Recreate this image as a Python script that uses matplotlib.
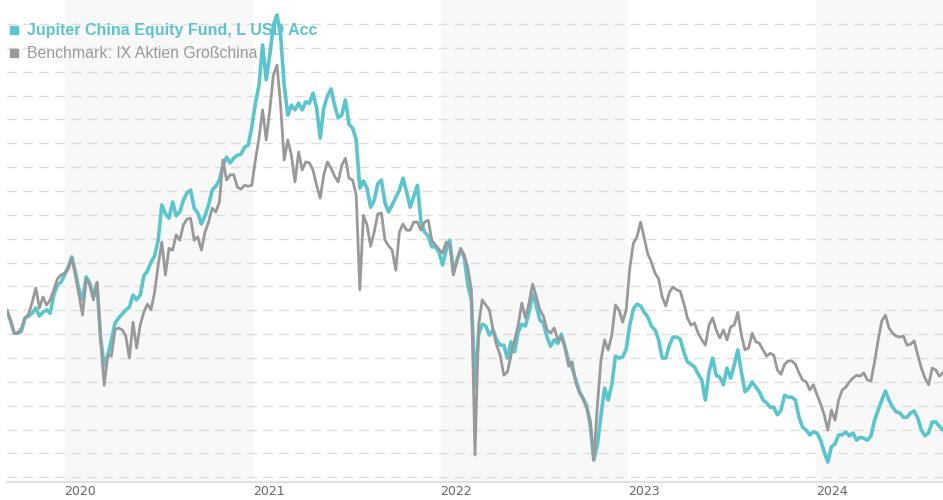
import matplotlib
matplotlib.use("Agg")
import matplotlib.pyplot as plt
import matplotlib.dates as mdates
import pandas as pd

# ---- data (weekly index values, start = 100) ----
start_date = "2019-09-11"
fund_name = "Jupiter China Equity Fund, L USD Acc"
bench_name = "Benchmark: IX Aktien Großchina"
years = [2020, 2021, 2022, 2023, 2024]

fund = [
    99.9, 97.8, 95.2, 95.2, 95.6, 98.4, 98.8, 99.4, 100.5, 98.8,
    99.6, 100.1, 99.4, 103.2, 105.3, 105.9, 107.4, 109.1, 111.2, 108.0,
    104.3, 102.2, 107.0, 105.7, 102.8, 105.7, 94.2, 88.5, 90.6, 93.8,
    97.3, 98.4, 99.2, 100.1, 100.7, 103.2, 102.2, 103.2, 107.2, 108.2,
    110.1, 111.4, 114.7, 122.1, 120.2, 119.3, 122.7, 119.8, 120.6, 123.1,
    124.6, 125.2, 121.4, 120.4, 118.1, 119.8, 122.1, 125.2, 126.0, 127.3,
    130.4, 132.1, 130.9, 131.9, 132.5, 132.7, 134.2, 134.6, 138.4, 143.4,
    147.2, 155.6, 148.3, 153.5, 159.8, 161.9, 157.7, 147.2, 140.9, 143.0,
    142.0, 143.4, 142.0, 143.7, 143.4, 145.5, 142.4, 136.1, 142.4, 144.9,
    146.4, 143.0, 140.3, 140.9, 144.1, 139.0, 138.2, 135.7, 125.6, 127.1,
    125.6, 121.6, 123.1, 126.5, 127.3, 122.5, 120.6, 122.1, 123.7, 125.2,
    127.7, 124.8, 121.6, 123.9, 126.2, 118.5, 116.4, 115.6, 113.3, 113.3,
    112.2, 109.5, 112.6, 114.7, 108.0, 110.5, 112.6, 111.2, 105.3, 102.2,
    84.0, 95.0, 97.1, 96.7, 94.8, 95.9, 93.8, 92.7, 92.7, 90.0,
    93.4, 91.3, 95.4, 97.1, 96.7, 99.6, 103.4, 101.1, 98.0, 97.3,
    94.4, 92.5, 93.8, 93.1, 95.0, 92.3, 89.4, 87.9, 85.4, 83.1,
    81.6, 80.1, 76.0, 68.6, 71.8, 78.1, 83.7, 81.2, 84.4, 90.4,
    90.0, 90.2, 91.9, 96.9, 100.3, 101.3, 100.9, 99.6, 98.6, 96.7,
    95.9, 93.8, 90.0, 90.0, 92.7, 94.4, 94.4, 94.0, 91.3, 89.2,
    88.7, 88.1, 86.6, 85.4, 81.2, 87.1, 90.0, 86.4, 86.0, 84.4,
    87.9, 85.8, 88.5, 91.7, 87.1, 82.9, 83.7, 85.0, 83.9, 82.9,
    81.2, 80.6, 79.7, 79.7, 78.1, 79.1, 82.2, 81.8, 81.8, 81.2,
    77.6, 75.5, 74.9, 73.9, 74.5, 74.3, 72.8, 70.3, 68.2, 71.4,
    72.0, 73.9, 73.9, 74.5, 73.7, 74.3, 72.8, 73.4, 73.2, 72.8,
    73.7, 77.0, 79.1, 81.2, 83.1, 81.2, 79.7, 78.7, 78.5, 77.6,
    77.6, 78.5, 78.9, 77.4, 74.9, 73.7, 74.3, 76.6, 76.6, 75.7,
    74.9,
]

benchmark = [
    99.9, 97.8, 95.2, 95.2, 96.3, 98.4, 99.2, 101.7, 104.7, 100.5,
    102.8, 101.1, 102.2, 104.3, 106.6, 107.4, 107.8, 108.6, 110.9, 107.4,
    103.2, 99.0, 106.6, 105.3, 102.2, 105.9, 93.8, 84.3, 90.6, 90.4,
    95.9, 96.3, 95.9, 94.6, 90.0, 97.5, 92.1, 96.9, 99.6, 101.3,
    100.1, 103.8, 109.5, 114.3, 107.4, 113.0, 112.6, 115.8, 114.7, 117.9,
    119.1, 119.3, 114.7, 115.4, 112.6, 116.4, 118.5, 121.4, 120.6, 122.7,
    131.5, 127.3, 128.4, 128.4, 125.8, 125.4, 126.2, 126.0, 126.2, 131.5,
    136.1, 142.0, 135.7, 142.0, 149.3, 151.4, 143.0, 131.5, 135.7, 132.5,
    126.9, 133.2, 129.4, 131.1, 130.9, 129.4, 126.2, 123.5, 128.4, 131.1,
    129.8, 128.1, 126.9, 130.4, 131.9, 127.7, 127.3, 124.2, 104.3, 119.9,
    117.9, 113.4, 116.4, 120.2, 120.4, 114.7, 113.5, 112.6, 108.4, 116.4,
    118.1, 116.8, 116.8, 118.5, 118.5, 116.8, 118.5, 118.9, 114.7, 113.7,
    112.8, 112.0, 114.3, 113.7, 107.4, 110.5, 113.0, 111.6, 108.9, 104.3,
    69.7, 96.9, 102.2, 101.1, 100.1, 95.9, 92.7, 90.6, 86.4, 87.1,
    90.6, 93.8, 96.9, 101.5, 98.4, 101.5, 105.5, 103.0, 100.1, 98.8,
    95.9, 95.2, 96.3, 93.8, 94.4, 92.1, 88.3, 89.2, 84.8, 82.7,
    81.4, 79.5, 77.0, 68.6, 80.1, 89.6, 93.8, 91.7, 94.8, 101.1,
    100.1, 97.5, 100.1, 108.9, 114.1, 115.4, 118.5, 115.2, 111.8, 110.1,
    107.8, 106.6, 102.8, 100.9, 103.8, 104.9, 104.3, 104.0, 101.5, 98.4,
    96.9, 97.3, 95.2, 93.8, 92.7, 96.9, 98.4, 95.9, 94.2, 95.9,
    93.8, 96.5, 96.9, 99.6, 94.8, 91.7, 92.1, 95.2, 93.4, 93.1,
    91.7, 90.4, 91.0, 90.6, 87.5, 86.6, 88.7, 89.4, 89.4, 88.7,
    86.9, 85.4, 85.0, 83.3, 84.4, 82.3, 80.4, 78.1, 74.9, 79.1,
    77.0, 81.2, 83.3, 83.9, 85.0, 85.8, 86.4, 86.2, 86.9, 85.4,
    85.2, 89.2, 93.8, 97.8, 99.0, 96.3, 95.2, 94.6, 94.4, 94.6,
    92.7, 92.9, 93.6, 90.6, 87.9, 85.8, 84.4, 87.9, 87.5, 86.2,
    86.9,
]

grid_values = list(range(65, 161, 5))

# ---- styling ----
TEAL = "#5bc5cd"
GRAY = "#999999"
plt.rcParams["lines.scale_dashes"] = False

dates = pd.date_range(start_date, periods=len(fund), freq="7D")

fig = plt.figure(figsize=(9.43, 5.0), dpi=100)
ax = fig.add_axes([7 / 943, 18.5 / 500, 936 / 943, 481.5 / 500])

# alternating year bands
for y in years[::2]:
    ax.axvspan(pd.Timestamp(f"{y}-01-01"), pd.Timestamp(f"{y + 1}-01-01"),
               color="#f8f8f8", lw=0, zorder=0)

ax.set_ylim(64.13, 165.03)
ax.set_xlim(dates[0], dates[-1])

ax.set_yticks(grid_values)
ax.yaxis.grid(True, color="#dedede", lw=1.0, linestyle=(0, (7.0, 4.5)), zorder=0.5)
ax.set_axisbelow(True)
ax.tick_params(axis="y", left=False, labelleft=False)

ax.set_xticks([pd.Timestamp(f"{y}-01-01") for y in years])
ax.xaxis.set_major_formatter(mdates.DateFormatter("%Y"))
ax.tick_params(axis="x", length=0, pad=2.5, labelsize=9, labelcolor="#666666")
for lab in ax.get_xticklabels():
    lab.set_horizontalalignment("left")

for s in ["top", "right", "left"]:
    ax.spines[s].set_visible(False)
ax.spines["bottom"].set_color("#e2e2e2")
ax.spines["bottom"].set_linewidth(1.5)

# legend (under the lines)
ax.plot([6.5 / 936], [1 - 30 / 481.5], marker="s", ms=5.5, color=TEAL,
        transform=ax.transAxes, zorder=1, clip_on=False)
ax.plot([6.5 / 936], [1 - 53 / 481.5], marker="s", ms=5.5, color=GRAY,
        transform=ax.transAxes, zorder=1, clip_on=False)
ax.text(20 / 936, 1 - 30 / 481.5, fund_name, transform=ax.transAxes,
        color=TEAL, fontsize=11.5, fontweight="bold", family="Liberation Sans",
        va="center", ha="left", zorder=1)
ax.text(20 / 936, 1 - 53 / 481.5, bench_name, transform=ax.transAxes,
        color=GRAY, fontsize=11.4, family="Liberation Sans",
        va="center", ha="left", zorder=1)

ax.plot(dates, fund, color=TEAL, lw=2.6, zorder=2, solid_joinstyle="round")
ax.plot(dates, benchmark, color=GRAY, lw=2.0, zorder=3, solid_joinstyle="round")

fig.savefig("out.png", dpi=100)
